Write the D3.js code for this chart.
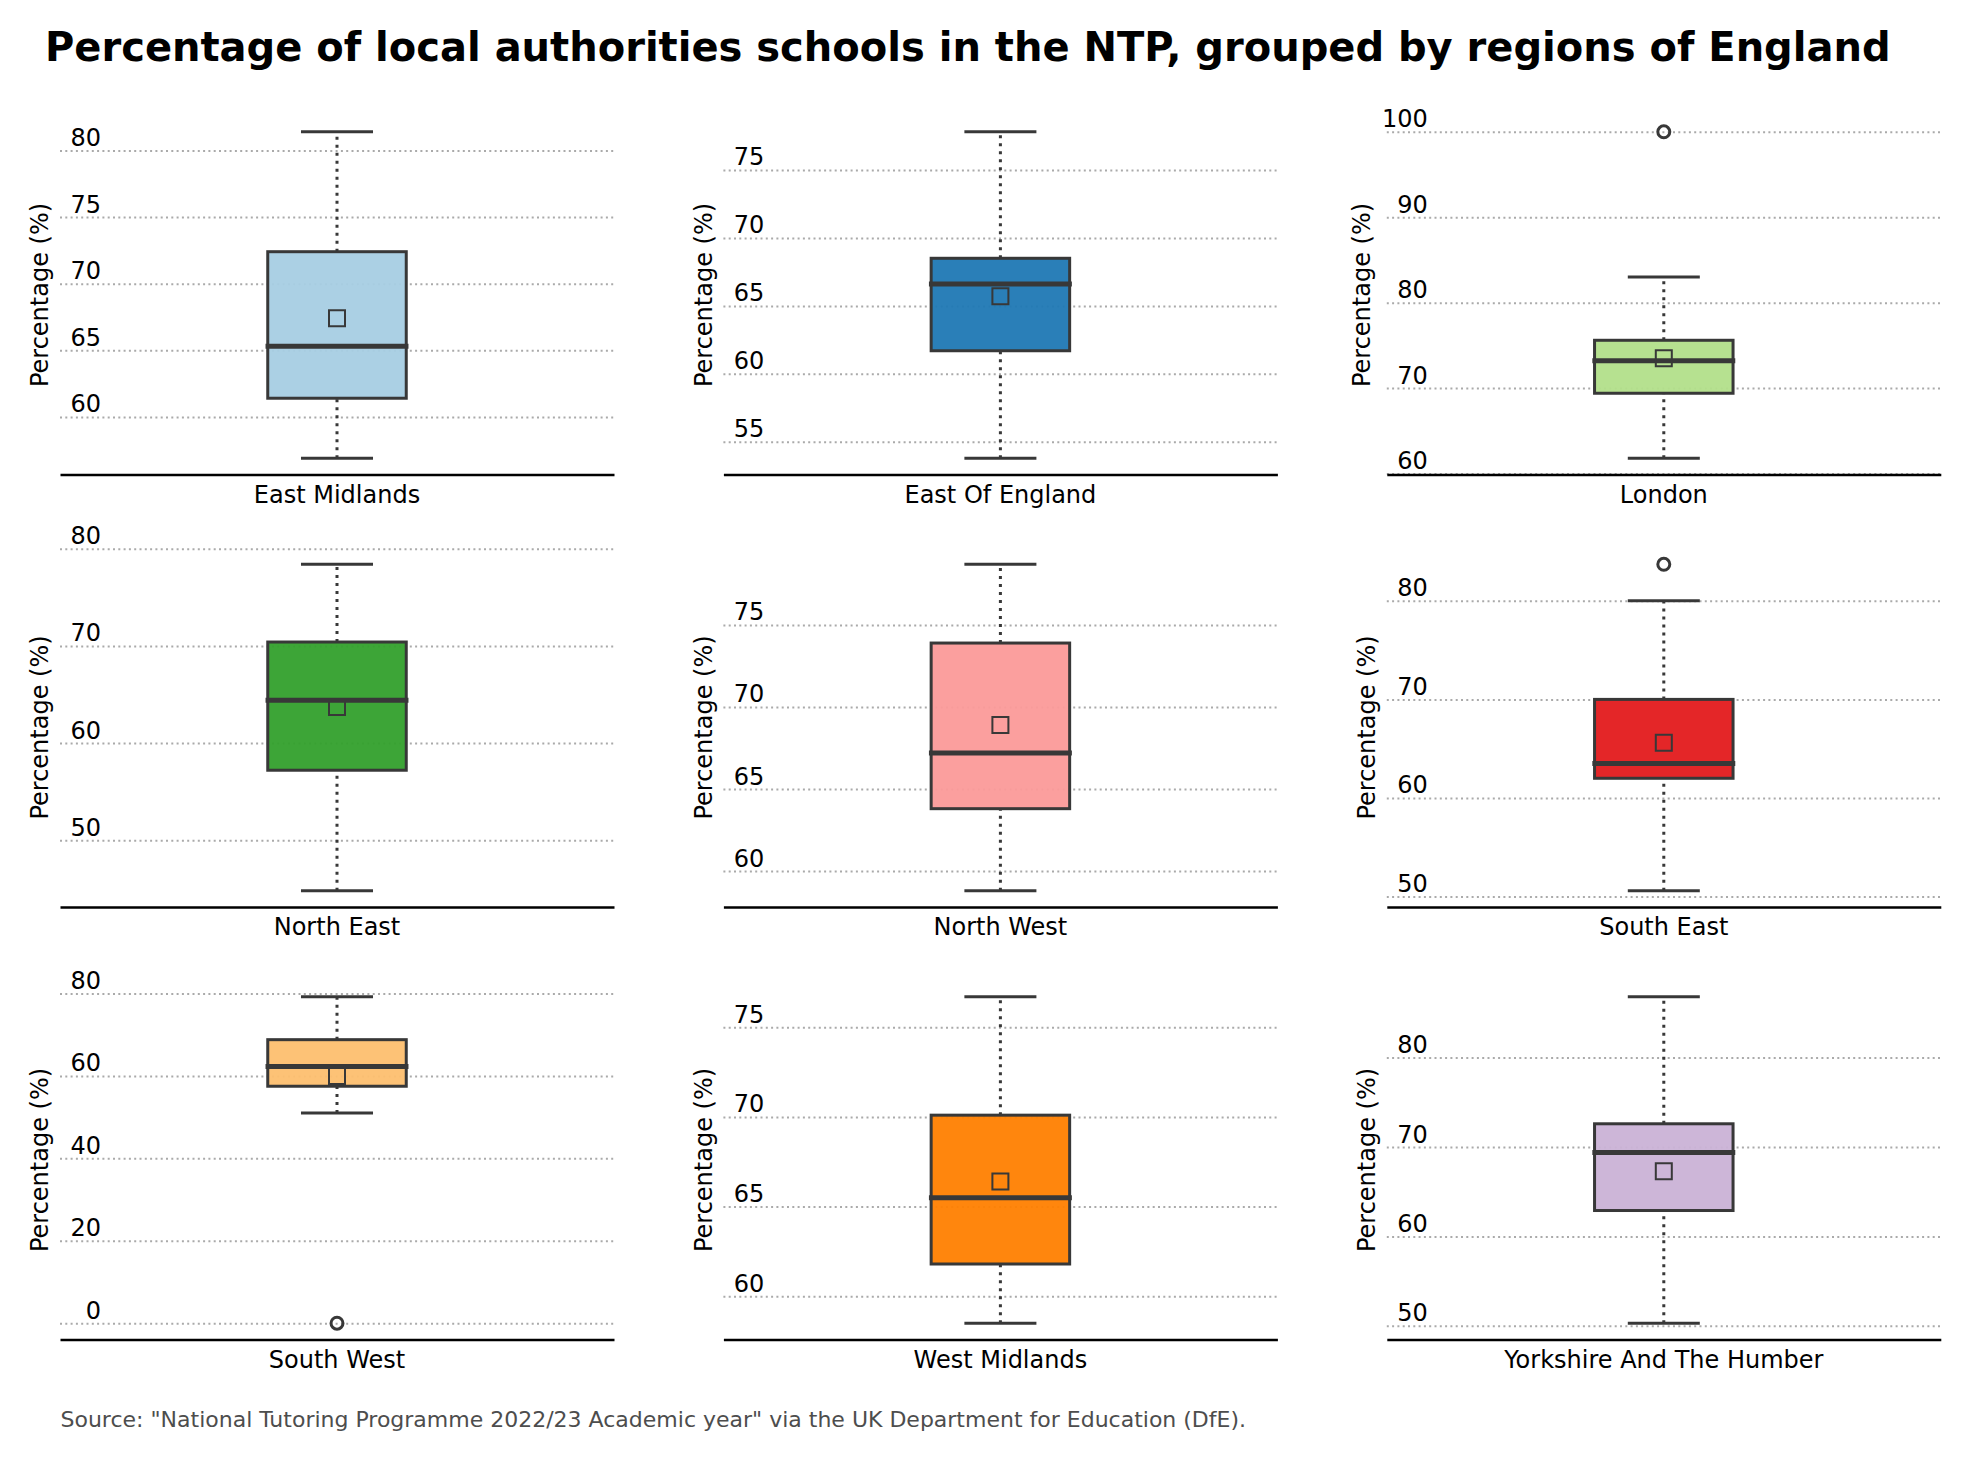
<!DOCTYPE html>
<html>
<head>
<meta charset="utf-8">
<script src="https://cdn.jsdelivr.net/npm/d3@7/dist/d3.min.js"></script>
<style>
	html, body { margin: 0; padding: 0; background: #fff; }
	text { font-family: "DejaVu Sans", sans-serif; }
</style>
</head>
<body>
<div id="chart"></div>
<script>
var regions = ["East Midlands", "East Of England", "London", "North East", "North West", "South East", "South West", "West Midlands", "Yorkshire And The Humber"];
var whisker_low = [56.9, 53.8, 61.8, 44.8, 58.8, 50.6, 51, 58.5, 50.3];
var q1 = [61.4, 61.7, 69.4, 57.2, 63.8, 62, 57.5, 61.8, 62.9];
var medians = [65.3, 66.6, 73.2, 64.4, 67.2, 63.5, 62.3, 65.5, 69.4];
var q3 = [72.4, 68.5, 75.6, 70.4, 73.9, 70, 68.8, 70.1, 72.6];
var whisker_high = [81.4, 77.8, 83, 78.4, 78.7, 80, 79.2, 76.7, 86.8];
var means = [67.4, 65.7, 73.5, 63.7, 68.9, 65.6, 60, 66.4, 67.3];
var outliers = [[], [], [100], [], [], [83.7], [0], [], []];
var y_ticks = [
	[60, 65, 70, 75, 80],
	[55, 60, 65, 70, 75],
	[60, 70, 80, 90, 100],
	[50, 60, 70, 80],
	[60, 65, 70, 75],
	[50, 60, 70, 80],
	[0, 20, 40, 60, 80],
	[60, 65, 70, 75],
	[50, 60, 70, 80]
];

var title_text = "Percentage of local authorities schools in the NTP, grouped by regions of England";
var source_text = "Source: \"National Tutoring Programme 2022/23 Academic year\" via the UK Department for Education (DfE).";
var y_label = "Percentage (%)";

var width = 1968,
	height = 1458,
	panel_w = 554,
	panel_h = 359,
	col_step = 663.4,
	row_step = 432.5,
	left = 60,
	first_bottom = 474.5,
	ink = "#383838",
	tick_size = 24;

var svg = d3.select("#chart")
	.append("svg")
	.attr("width", width)
	.attr("height", height)
	.style("display", "block");

svg.append("text")
	.attr("x", 45)
	.attr("y", 61)
	.style("font-size", "40px")
	.style("font-weight", "bold")
	.style("fill", "#000")
	.text(title_text);

svg.append("text")
	.attr("x", 60.5)
	.attr("y", 1427)
	.style("font-size", "22px")
	.style("fill", "#4d4d4d")
	.text(source_text);

//draws one boxplot panel
function drawPanel(i) {
	var x0 = left + (i % 3) * col_step,
		bottom = first_bottom + Math.floor(i / 3) * row_step,
		lo = d3.min([whisker_low[i]].concat(outliers[i])),
		hi = d3.max([whisker_high[i]].concat(outliers[i])),
		pad = (hi - lo) * 0.05;

	var x = d3.scaleLinear().domain([-0.5, 0.5]).range([0, panel_w]),
		y = d3.scaleLinear().domain([lo - pad, hi + pad]).range([panel_h, 0]),
		band = d3.scaleBand().domain([regions[i]]).range([0, panel_w]);

	var g = svg.append("g")
		.attr("transform", "translate(" + x0 + "," + (bottom - panel_h) + ")");

	//y axis carries the dotted grid, labels sit on top of the grid lines
	var y_axis = g.append("g")
		.call(d3.axisLeft(y).tickValues(y_ticks[i]).tickSize(-panel_w).tickFormat(d3.format("d")));
	y_axis.select(".domain").remove();
	y_axis.selectAll("line")
		.attr("stroke", "#aaaaaa")
		.attr("stroke-width", 2)
		.attr("stroke-dasharray", "2 3.3");
	y_axis.selectAll("text")
		.attr("x", 41)
		.attr("y", -5)
		.attr("dy", 0)
		.attr("text-anchor", "end")
		.style("font-size", tick_size + "px")
		.style("fill", "#000");

	var x_axis = g.append("g")
		.attr("transform", "translate(0," + panel_h + ")")
		.call(d3.axisBottom(band).tickSize(0).tickPadding(11));
	x_axis.select(".domain")
		.attr("stroke", "#000")
		.attr("stroke-width", 2.5);
	x_axis.selectAll("text")
		.attr("dy", "0.71em")
		.style("font-size", tick_size + "px")
		.style("fill", "#000");

	var label_x = d3.max(y_ticks[i]) >= 100 ? -25 : -20;
	g.append("text")
		.attr("transform", "translate(" + label_x + "," + (panel_h / 2) + ") rotate(-90)")
		.attr("text-anchor", "middle")
		.attr("dy", "0.35em")
		.style("font-size", tick_size + "px")
		.style("fill", "#000")
		.text(y_label);

	//whiskers
	g.selectAll(".whisker")
		.data([[whisker_low[i], q1[i]], [q3[i], whisker_high[i]]])
		.enter()
		.append("line")
		.attr("class", "whisker")
		.attr("x1", x(0))
		.attr("x2", x(0))
		.attr("y1", function(d) { return y(d[0]); })
		.attr("y2", function(d) { return y(d[1]); })
		.attr("stroke", ink)
		.attr("stroke-width", 3)
		.attr("stroke-dasharray", "3 5");

	//caps
	g.selectAll(".cap")
		.data([whisker_low[i], whisker_high[i]])
		.enter()
		.append("line")
		.attr("class", "cap")
		.attr("x1", x(-0.065))
		.attr("x2", x(0.065))
		.attr("y1", function(d) { return y(d); })
		.attr("y2", function(d) { return y(d); })
		.attr("stroke", ink)
		.attr("stroke-width", 3);

	//box, a little see through so the grid just shows
	g.append("rect")
		.attr("x", x(-0.125))
		.attr("width", x(0.125) - x(-0.125))
		.attr("y", y(q3[i]))
		.attr("height", y(q1[i]) - y(q3[i]))
		.attr("fill", d3.schemePaired[i])
		.attr("fill-opacity", 0.95)
		.attr("stroke", ink)
		.attr("stroke-width", 3);

	//median
	g.append("line")
		.attr("x1", x(-0.129))
		.attr("x2", x(0.129))
		.attr("y1", y(medians[i]))
		.attr("y2", y(medians[i]))
		.attr("stroke", ink)
		.attr("stroke-width", 5);

	//mean square
	g.append("path")
		.attr("d", d3.symbol().type(d3.symbolSquare).size(256))
		.attr("transform", "translate(" + x(0) + "," + y(means[i]) + ")")
		.attr("fill", "none")
		.attr("stroke", ink)
		.attr("stroke-width", 2);

	//outliers
	g.selectAll(".outlier")
		.data(outliers[i])
		.enter()
		.append("circle")
		.attr("class", "outlier")
		.attr("cx", x(0))
		.attr("cy", function(d) { return y(d); })
		.attr("r", 6)
		.attr("fill", "none")
		.attr("stroke", ink)
		.attr("stroke-width", 3);
}

regions.forEach(function(d, i) {
	drawPanel(i);
});
</script>
</body>
</html>
